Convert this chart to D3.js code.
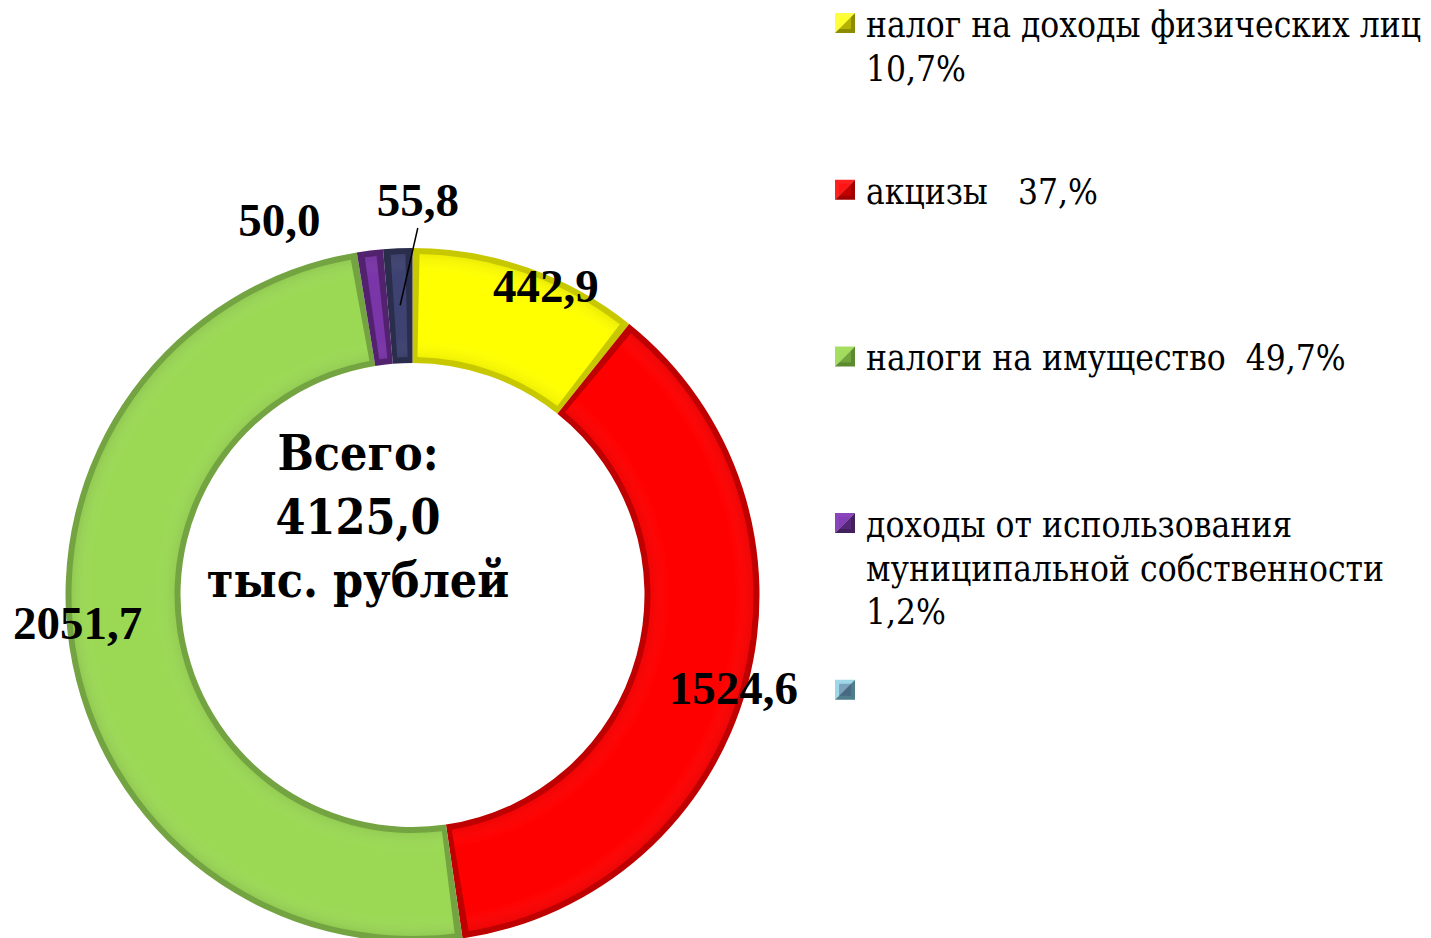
<!DOCTYPE html>
<html><head><meta charset="utf-8">
<script src="https://cdn.jsdelivr.net/npm/d3@7"></script>
<style>body{margin:0;background:#fff;overflow:hidden}</style>
</head><body>
<svg id="c" width="1431" height="938"></svg>
<script>
// ---- data ----
const categories = ["налог на доходы физических лиц", "акцизы", "налоги на имущество", "доходы от использования муниципальной собственности", ""];
const values = [442.9, 1524.6, 2051.7, 50.0, 55.8];
const valueLabels = ["442,9", "1524,6", "2051,7", "50,0", "55,8"];
const legendLines = [
  ["налог на доходы физических лиц", "10,7%"],
  ["акцизы   37,%"],
  ["налоги на имущество  49,7%"],
  ["доходы от использования", "муниципальной собственности", "1,2%"],
  []
];
const totalLines = ["Всего:", "4125,0", "тыс. рублей"];

// ---- style / layout ----
const faceColors = ["#FFFF00", "#FF0000", "#9BD955", "#7A35A8", "#3D4270"];
const edgeColors = ["#C8C800", "#BE0000", "#74A442", "#52226F", "#2A2D4C"];
const markerLight = ["#FFFF40", "#FF2020", "#A6DE62", "#8A45BC", "#9ED8E8"];
const markerDark = ["#8C8C00", "#A00000", "#5C8A30", "#43205E", "#4E7E8C"];
const labelNudgeDeg = [4, 1, 4, -12.5, 3.2];
const labelRadius = [337, 334, 336, 398, 395];

const svg = d3.select("#c");
const cx = 412.5, cy = 595, R = 347, r = 232;
const g = svg.append("g").attr("transform", `translate(${cx},${cy})`);

const pie = d3.pie().sort(null).value(d => d)(values);
const arcFull = d3.arc().innerRadius(r).outerRadius(R);

const slices = g.selectAll("g.slice").data(pie).join("g").attr("class", "slice");
slices.append("path").attr("d", arcFull).attr("fill", (d, i) => edgeColors[i]);
const inset = 6, mid = (R + r) / 2;
const insetArc = d => d3.arc().innerRadius(r + inset).outerRadius(R - inset)
  .startAngle(d.startAngle + inset / mid).endAngle(d.endAngle - inset / mid)();
slices.append("path").attr("d", insetArc).attr("fill", (d, i) => faceColors[i]);
const defs = svg.append("defs");
const rg = defs.append("radialGradient").attr("id", "shade").attr("gradientUnits", "userSpaceOnUse")
  .attr("cx", 0).attr("cy", 0).attr("r", R);
rg.append("stop").attr("offset", r / R).attr("stop-color", "#000").attr("stop-opacity", 0.10);
rg.append("stop").attr("offset", (r + 25) / R).attr("stop-color", "#fff").attr("stop-opacity", 0.0);
rg.append("stop").attr("offset", (R - 25) / R).attr("stop-color", "#fff").attr("stop-opacity", 0.0);
rg.append("stop").attr("offset", 1).attr("stop-color", "#000").attr("stop-opacity", 0.12);
slices.append("path").attr("d", insetArc).attr("fill", "url(#shade)");

// value labels
const labelPos = (d, i) => {
  const a = (d.startAngle + d.endAngle) / 2 + labelNudgeDeg[i] * Math.PI / 180;
  return [labelRadius[i] * Math.sin(a), -labelRadius[i] * Math.cos(a)];
};
const last = pie[4];
const lp = labelPos(last, 4);
const am = (last.startAngle + last.endAngle) / 2;
g.append("line")
  .attr("x1", lp[0]).attr("y1", lp[1] + 28)
  .attr("x2", 290 * Math.sin(am)).attr("y2", -290 * Math.cos(am))
  .attr("stroke", "#000").attr("stroke-width", 1.5);

g.selectAll("text.val").data(pie).join("text").attr("class", "val")
  .attr("x", (d, i) => labelPos(d, i)[0])
  .attr("y", (d, i) => labelPos(d, i)[1])
  .attr("dy", "0.34em")
  .attr("text-anchor", "middle")
  .style("font-family", "'Liberation Serif', 'Times New Roman', serif")
  .style("font-weight", "bold").style("font-size", "47px")
  .text((d, i) => valueLabels[i]);

// center total (condensed serif via horizontal scale)
g.selectAll("text.tot").data(totalLines).join("text").attr("class", "tot")
  .attr("transform", (d, i) => `translate(-54.5,${-125 + i * 63.5}) scale(0.88,1)`)
  .attr("text-anchor", "middle")
  .style("font-family", "'DejaVu Serif', serif")
  .style("font-weight", "bold").style("font-size", "49px")
  .text(d => d);

// legend
const legX = 835, legTextX = 866, legY0 = 37, legStep = 166.7, lineH = 43.5, ms = 20;
const items = svg.selectAll("g.leg").data(categories).join("g").attr("class", "leg")
  .attr("transform", (d, i) => `translate(0,${legY0 + i * legStep})`);
items.append("path")
  .attr("d", `M${legX},-24 h${ms} L${legX},${-24 + ms} Z`)
  .attr("fill", (d, i) => markerLight[i]);
items.append("path")
  .attr("d", `M${legX + ms},-24 v${ms} h${-ms} Z`)
  .attr("fill", (d, i) => markerDark[i]);
items.append("rect").attr("x", legX + 4).attr("y", -20).attr("width", ms - 8).attr("height", ms - 8)
  .attr("fill", (d, i) => faceColors[i]).attr("opacity", 0.35);
items.each(function (d, i) {
  d3.select(this).selectAll("text").data(legendLines[i]).join("text")
    .attr("transform", (t, j) => `translate(${legTextX},${j * lineH}) scale(0.9,1)`)
    .style("font-family", "'DejaVu Serif', serif")
    .style("font-size", "35px").style("fill", "#000")
    .attr("xml:space", "preserve").style("white-space", "pre")
    .text(t => t);
});
</script>
</body></html>
